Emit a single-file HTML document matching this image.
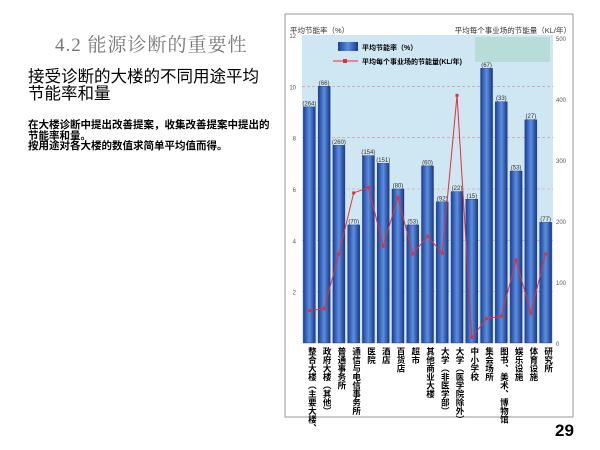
<!DOCTYPE html>
<html><head><meta charset="utf-8"><style>
body{margin:0;width:600px;height:450px;background:#fff;position:relative;overflow:hidden;font-family:"Liberation Sans","Noto Sans CJK SC",sans-serif}
.abs{position:absolute}
</style></head><body>
<div class="abs" style="left:55px;top:30px;font:19px 'Liberation Serif','Noto Serif CJK SC',serif;color:#777;letter-spacing:1px;white-space:nowrap">4.2 能源诊断的重要性</div>
<div class="abs" style="left:28px;top:69px;width:245px;font-size:16.5px;line-height:17px;color:#000">接受诊断的大楼的不同用途平均节能率和量</div>
<div class="abs" style="left:28px;top:120px;width:245px;font-size:10.5px;line-height:10.5px;font-weight:bold;color:#000">在大楼诊断中提出改善提案，收集改善提案中提出的节能率和量。<br>按用途对各大楼的数值求简单平均值而得。</div>
<div class="abs" style="left:555px;top:421px;font-size:17px;font-weight:bold">29</div>
<svg class="abs" style="left:0;top:0" width="600" height="450">
<defs><linearGradient id="bg" x1="0" x2="1"><stop offset="0" stop-color="#1c3f9a"/><stop offset="0.5" stop-color="#5b8fe0"/><stop offset="1" stop-color="#1a3788"/></linearGradient></defs>
<g id="root"></g>
</svg>
<script>
const categories=["整合大楼（主要大楼、文化大楼、综合大楼）","政府大楼（其他）","普通事务所","通信与电信事务所","医院","酒店","百货店","超市","其他商业大楼","大学（非医学部）","大学（医学院除外）","中小学校","集会场所","图书、美术、博物馆","娱乐设施","体育设施","研究所"];
const rateValues=[9.2,10.0,7.7,4.6,7.3,7.0,6.0,4.6,6.9,5.5,5.9,5.6,10.7,9.4,6.7,8.7,4.7];
const countLabels=[264,66,260,70,154,151,80,53,60,92,22,15,67,33,53,27,77];
const amountValues=[53,56,146,246,255,159,239,146,175,147,406,9,40,44,136,49,146];
const leftTicks=[2,4,6,8,10,12];
const rightTicks=[0,100,200,300,400,500];
const NS="http://www.w3.org/2000/svg";
const root=document.getElementById('root');
const X0=302,X1=553,Y0=343,Y1=35,YR1=38;
const yL=v=>Y0-(Y0-Y1)*v/12;
const yR=v=>Y0-(Y0-YR1)*v/500;
const step=(X1-X0)/categories.length;
const xC=i=>X0+step*(i+0.5);
function mk(t,a,txt){const e=document.createElementNS(NS,t);for(const k in a)e.setAttribute(k,a[k]);if(txt!==undefined)e.textContent=txt;root.appendChild(e);return e;}
let e;
e=mk('rect',{x:285,y:14,width:288,height:403,fill:'none',stroke:'#999','stroke-width':1});

e=mk('rect',{x:X0,y:Y1,width:X1-X0,height:Y0-Y1,fill:'#cfe6f3'});

e=mk('rect',{x:475,y:37,width:75,height:25,fill:'#b8ddd8'});

leftTicks.forEach(v=>{
 if(v<12){e=mk('line',{x1:X0,x2:X1,y1:yL(v),y2:yL(v),stroke:'#d88aa0','stroke-dasharray':'3,2','stroke-width':0.6});
 }
 e=mk('text',{x:296,y:yL(v)+3,'font-size':6,fill:'#555','text-anchor':'end'},v);
 
});
rightTicks.forEach(v=>{
 e=mk('text',{x:X1+3,y:yR(v)+3,'font-size':6,fill:'#555'},v);
 
});
e=mk('text',{x:290,y:33,'font-size':7.5,fill:'#333'},'平均节能率（%）');

e=mk('text',{x:571,y:33,'font-size':7.5,fill:'#333','text-anchor':'end'},'平均每个事业场的节能量（KL/年）');

rateValues.forEach((v,i)=>{
 const bw=12;
 e=mk('rect',{x:xC(i)-bw/2,y:yL(v),width:bw,height:Y0-yL(v),fill:'url(#bg)',stroke:'#1a3070','stroke-width':0.4});
 
 e=mk('text',{x:xC(i),y:yL(v)-1.5,'font-size':6,fill:'#333','text-anchor':'middle'},'('+countLabels[i]+')');
 
});
const pts=amountValues.map((v,i)=>xC(i)+','+yR(v)).join(' ');
e=mk('polyline',{points:pts,fill:'none',stroke:'#e0303a','stroke-width':1});

amountValues.forEach((v,i)=>{
 e=mk('rect',{x:xC(i)-1.5,y:yR(v)-1.5,width:3,height:3,fill:'#e0303a'});
 
});
e=mk('rect',{x:338,y:42,width:20,height:9,fill:'url(#bg)'});

e=mk('text',{x:362,y:50,'font-size':7,'font-weight':'bold',fill:'#000'},'平均节能率（%）');

e=mk('line',{x1:333,x2:358,y1:61,y2:61,stroke:'#e0303a','stroke-width':1});

e=mk('rect',{x:343,y:59,width:4,height:4,fill:'#e0303a'});

e=mk('text',{x:362,y:64,'font-size':7,'font-weight':'bold',fill:'#000'},'平均每个事业场的节能量(KL/年)');

categories.forEach((c,i)=>{
 e=mk('text',{x:xC(i)+3,y:347,'font-size':8.5,'font-weight':'bold',fill:'#000','writing-mode':'tb','glyph-orientation-vertical':0,style:'writing-mode:vertical-rl'},c.length>12?c.slice(0,10):c);
 
});
</script>
</body></html>
